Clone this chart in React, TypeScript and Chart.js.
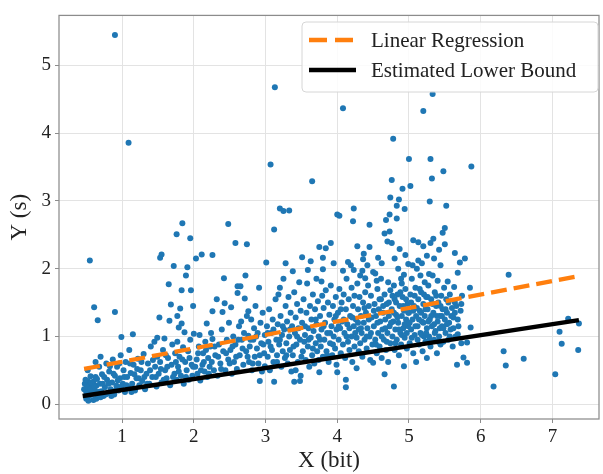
import React, { useEffect, useRef } from "react";
import { Chart, registerables } from "chart.js";

Chart.register(...registerables);

const X_TICKS = [1, 2, 3, 4, 5, 6, 7];
const Y_TICKS = [0, 1, 2, 3, 4, 5];
const X_RANGE = [0.12, 7.65];
const Y_RANGE = [-0.22, 5.74];

const REG_X = [0.47, 7.37];
const REG_Y = [0.52, 1.89];
const LB_X = [0.45, 7.37];
const LB_Y = [0.12, 1.24];

const LEGEND_LABELS = ["Linear Regression", "Estimated Lower Bound"];
const X_TITLE = "X (bit)";
const Y_TITLE = "Y (s)";

const POINTS: [number, number][] = [
  [0.47,0.22],[0.48,0.3],[0.5,0.18],[0.5,0.08],[0.52,0.34],[0.53,0.2],[0.54,0.12],[0.55,0.28],[0.56,0.41],[0.57,0.15],[0.58,0.24],[0.6,0.06],[0.6,0.33],[0.62,0.2],[0.64,0.27],[0.65,0.37],[0.66,0.1],[0.68,0.55],[0.69,0.3],[0.71,0.19],[0.72,0.44],[0.74,0.12],[0.55,2.12],[0.61,1.43],[0.66,1.24],[0.52,0.5],[0.63,0.62],[0.7,0.7],
  [0.76,0.25],[0.78,0.6],[0.79,0.36],[0.8,0.16],[0.82,0.48],[0.84,0.22],[0.86,0.32],[0.87,0.66],[0.89,0.14],[0.9,0.42],[0.9,5.45],[0.9,1.36],[0.92,0.27],[0.93,0.55],[0.95,0.2],[0.97,0.38],[0.98,0.72],[0.99,0.99],
  [1.01,0.3],[1.02,0.5],[1.04,0.18],[1.05,0.62],[1.07,0.4],[1.09,3.86],[1.09,0.25],[1.1,0.8],[1.12,0.46],[1.14,0.3],[1.15,1.03],[1.16,0.58],[1.18,0.2],[1.2,0.38],[1.22,0.67],[1.24,0.28],
  [1.26,0.5],[1.28,0.34],[1.3,0.74],[1.32,0.22],[1.34,0.45],[1.36,0.6],[1.38,0.3],[1.4,0.85],[1.42,0.4],[1.45,0.92],[1.46,0.55],[1.48,0.26],[1.49,0.98],[1.49,0.7],
  [1.52,1.28],[1.53,2.16],[1.55,2.21],[1.51,0.45],[1.53,0.62],[1.55,0.32],[1.57,0.8],[1.59,0.97],[1.6,0.5],[1.62,0.38],[1.64,0.68],[1.65,1.77],[1.66,1.23],[1.67,0.28],[1.68,1.47],[1.69,0.58],[1.7,0.88],[1.72,2.04],[1.73,0.45],[1.74,0.75],
  [1.76,2.51],[1.77,1.3],[1.77,0.92],[1.79,1.13],[1.81,1.41],[1.83,1.19],[1.83,1.68],[1.84,2.67],[1.87,1.06],[1.89,1.9],[1.91,2.02],[1.95,2.45],[1.96,1.68],[1.99,1.45],[1.76,0.36],[1.78,0.55],[1.8,0.7],[1.82,0.42],[1.85,0.84],[1.86,0.3],[1.88,0.62],[1.9,0.5],[1.92,0.78],[1.93,0.36],[1.95,0.95],[1.97,0.58],[1.98,0.42],
  [2.0,1.04],[2.03,2.15],[2.04,0.66],[2.05,0.45],[2.07,0.85],[2.08,1.02],[2.09,0.35],[2.11,2.21],[2.12,0.58],[2.13,0.75],[2.15,0.48],[2.16,0.92],[2.18,1.19],[2.19,0.4],[2.2,0.68],[2.22,0.55],[2.23,0.85],[2.24,1.05],
  [2.26,1.37],[2.26,0.96],[2.26,2.2],[2.28,0.5],[2.3,0.72],[2.32,1.55],[2.33,0.42],[2.35,0.88],[2.37,0.6],[2.39,1.1],[2.4,1.36],[2.41,0.78],[2.42,1.86],[2.43,1.49],[2.44,0.5],[2.46,0.95],[2.48,2.66],[2.48,0.66],[2.49,1.2],
  [2.51,0.8],[2.52,1.43],[2.53,0.45],[2.55,1.0],[2.56,0.62],[2.58,2.38],[2.58,0.88],[2.6,0.52],[2.61,1.64],[2.61,1.74],[2.63,1.15],[2.64,0.72],[2.65,1.74],[2.66,1.22],[2.67,0.95],[2.69,0.58],[2.7,1.05],[2.71,1.56],[2.72,1.9],[2.73,0.78],[2.74,2.36],[2.74,1.3],
  [2.76,1.37],[2.76,1.01],[2.77,0.62],[2.78,0.85],[2.8,1.25],[2.81,0.5],[2.83,0.95],[2.84,1.12],[2.85,0.7],[2.86,1.45],[2.88,0.82],[2.89,1.05],[2.9,0.6],[2.91,1.72],[2.92,0.34],[2.93,1.2],[2.94,0.9],[2.95,0.48],[2.96,1.35],[2.98,0.75],[2.99,1.02],[2.99,0.56],
  [3.01,2.09],[3.02,1.15],[3.03,0.7],[3.04,0.92],[3.05,1.4],[3.06,0.5],[3.07,3.54],[3.08,1.05],[3.09,0.8],[3.1,1.25],[3.11,0.62],[3.12,2.58],[3.12,0.33],[3.13,4.68],[3.14,1.55],[3.15,0.95],[3.16,0.72],[3.17,1.18],[3.18,1.62],[3.19,0.88],[3.2,2.89],[3.2,1.72],[3.21,1.3],[3.22,0.55],[3.23,1.02],[3.24,0.78],[3.25,1.85],[3.25,2.85],
  [3.26,1.1],[3.27,0.68],[3.28,2.08],[3.28,1.45],[3.29,0.9],[3.3,1.22],[3.31,0.6],[3.32,1.58],[3.33,2.86],[3.33,1.0],[3.34,0.8],[3.35,1.35],[3.36,0.48],[3.37,1.15],[3.38,1.96],[3.38,0.72],[3.4,1.65],[3.4,0.33],[3.41,1.05],[3.42,0.5],[3.42,1.28],[3.43,0.88],[3.44,1.48],[3.45,0.62],[3.46,1.12],[3.47,1.8],[3.48,0.34],[3.48,0.95],[3.49,0.42],[3.49,1.38],
  [3.51,2.17],[3.51,1.2],[3.52,0.78],[3.53,1.55],[3.54,0.92],[3.55,1.02],[3.56,0.65],[3.57,1.35],[3.58,1.78],[3.59,1.98],[3.59,0.85],[3.6,1.12],[3.61,0.55],[3.62,1.45],[3.63,2.11],[3.63,0.98],[3.64,1.25],[3.65,3.29],[3.65,0.72],[3.66,1.62],[3.67,1.08],[3.68,0.6],[3.69,1.4],[3.7,0.9],[3.71,1.85],[3.71,1.18],[3.72,0.78],[3.73,1.52],[3.74,1.0],[3.74,0.65],
  [3.75,2.32],[3.75,0.47],[3.76,1.3],[3.77,0.85],[3.78,1.81],[3.78,1.1],[3.79,1.6],[3.8,2.16],[3.8,1.99],[3.8,0.7],[3.81,1.42],[3.82,0.95],[3.83,1.2],[3.84,2.3],[3.84,1.68],[3.85,0.78],[3.86,1.05],[3.87,1.5],[3.88,0.62],[3.89,1.32],[3.9,0.9],[3.91,2.38],[3.91,1.75],[3.92,1.15],[3.93,0.72],[3.94,1.45],[3.95,2.08],[3.95,1.0],[3.96,1.25],[3.97,0.82],[3.98,1.58],[3.99,1.1],[3.99,0.58],
  [4.0,2.8],[4.0,0.47],[4.01,1.35],[4.02,0.95],[4.03,2.78],[4.03,1.7],[4.04,1.12],[4.05,0.75],[4.06,1.5],[4.07,1.22],[4.08,4.37],[4.08,1.97],[4.08,0.88],[4.09,1.62],[4.1,1.05],[4.11,0.68],[4.12,0.36],[4.12,0.25],[4.12,1.4],[4.13,1.85],[4.14,1.18],[4.15,0.92],[4.16,1.55],[4.17,0.8],[4.18,1.3],[4.19,2.05],[4.2,1.0],[4.2,1.72],[4.21,0.62],[4.22,2.7],[4.22,1.45],[4.23,2.89],[4.23,1.98],[4.23,1.15],[4.24,0.85],[4.24,1.6],
  [4.26,1.25],[4.27,0.53],[4.27,0.98],[4.28,2.33],[4.28,1.78],[4.29,1.4],[4.3,0.78],[4.3,1.1],[4.31,1.58],[4.32,1.9],[4.32,0.9],[4.33,1.3],[4.34,1.05],[4.35,1.97],[4.35,0.7],[4.36,2.14],[4.36,1.5],[4.37,2.22],[4.37,1.2],[4.38,0.95],[4.39,1.86],[4.39,1.65],[4.4,1.35],[4.41,0.82],[4.42,1.12],[4.43,1.75],[4.44,1.45],[4.45,2.65],[4.45,2.32],[4.45,1.0],[4.46,0.65],[4.47,1.6],[4.48,1.28],[4.49,0.88],[4.5,0.61],[4.5,1.95],
  [4.51,1.15],[4.52,1.48],[4.53,1.93],[4.53,0.95],[4.54,1.3],[4.55,0.75],[4.56,1.7],[4.57,2.16],[4.57,1.05],[4.58,1.4],[4.59,0.85],[4.6,1.22],[4.61,1.85],[4.61,1.55],[4.62,0.68],[4.63,1.1],[4.64,1.35],[4.65,0.95],[4.66,2.52],[4.66,0.44],[4.66,1.62],[4.67,1.25],[4.68,2.72],[4.68,0.8],[4.69,1.48],[4.7,2.4],[4.7,1.05],[4.71,1.8],[4.71,0.62],[4.72,1.3],[4.73,2.8],[4.73,2.55],[4.73,1.15],[4.74,3.05],[4.74,0.9],[4.74,1.68],
  [4.76,3.31],[4.76,2.38],[4.76,1.4],[4.77,1.0],[4.78,3.92],[4.78,1.22],[4.79,0.26],[4.79,1.75],[4.8,0.8],[4.8,1.55],[4.81,1.1],[4.82,1.32],[4.83,2.93],[4.83,2.74],[4.83,0.95],[4.84,1.62],[4.85,2.0],[4.85,1.2],[4.86,3.02],[4.86,0.72],[4.87,2.29],[4.87,1.45],[4.88,1.05],[4.89,1.85],[4.89,0.88],[4.9,1.3],[4.91,3.18],[4.91,1.58],[4.92,1.12],[4.93,1.91],[4.93,0.56],[4.93,1.38],[4.94,2.88],[4.94,0.98],[4.95,1.7],[4.96,1.25],[4.97,0.82],[4.98,1.48],[4.99,2.07],[4.99,1.15],
  [5.0,3.62],[5.0,1.35],[5.01,0.9],[5.02,3.22],[5.02,1.62],[5.03,1.1],[5.04,1.85],[5.05,1.25],[5.06,2.42],[5.06,0.75],[5.07,1.45],[5.08,1.02],[5.09,1.72],[5.1,1.3],[5.1,0.62],[5.11,2.0],[5.12,1.15],[5.13,2.39],[5.13,2.12],[5.13,1.55],[5.14,0.88],[5.15,1.38],[5.16,1.9],[5.16,1.05],[5.17,1.65],[5.18,1.22],[5.19,0.78],[5.2,4.33],[5.2,2.33],[5.2,1.48],[5.21,1.0],[5.22,1.8],[5.22,1.3],[5.23,0.92],[5.24,1.58],[5.25,2.19],[5.25,1.12],[5.25,0.68],
  [5.26,1.4],[5.27,1.75],[5.28,1.0],[5.29,2.99],[5.29,1.25],[5.3,3.62],[5.3,2.38],[5.3,0.85],[5.31,1.55],[5.32,3.33],[5.32,1.15],[5.33,4.58],[5.33,1.9],[5.34,2.44],[5.34,1.35],[5.35,0.95],[5.36,1.65],[5.37,1.08],[5.38,1.45],[5.39,0.75],[5.4,1.22],[5.4,1.82],[5.41,1.5],[5.42,1.0],[5.43,1.3],[5.44,2.05],[5.44,0.88],[5.45,1.6],[5.46,1.15],[5.47,2.53],[5.47,1.4],[5.48,3.44],[5.48,0.92],[5.49,1.72],[5.5,2.6],[5.5,1.25],[5.5,2.36],
  [5.51,1.05],[5.52,2.93],[5.52,1.55],[5.53,1.35],[5.54,1.81],[5.55,0.95],[5.56,1.2],[5.57,1.62],[5.58,1.1],[5.6,1.42],[5.61,0.85],[5.62,1.28],[5.63,1.73],[5.64,2.23],[5.64,1.5],[5.65,1.0],[5.67,0.58],[5.68,1.94],[5.68,1.03],[5.68,1.25],[5.71,2.09],[5.72,1.38],[5.73,0.9],[5.73,1.48],[5.74,1.6],[5.76,0.69],[5.78,2.15],[5.81,0.91],[5.81,0.61],[5.85,1.72],[5.86,1.13],[5.87,3.51],
  [6.18,0.26],[6.32,0.78],[6.35,0.57],[6.39,1.91],[6.6,0.67],[7.04,0.44],[7.1,1.07],[7.13,0.89],[7.22,1.26],[7.36,0.8],[7.37,1.19],
  // denser core of the cloud
  [0.49,0.36],[0.51,0.25],[0.53,0.05],[0.56,0.22],[0.57,0.32],[0.59,0.15],[0.61,0.26],[0.63,0.4],[0.64,0.08],[0.67,0.18],[0.7,0.1],[0.73,0.3],[0.75,0.4],[0.77,0.14],[0.81,0.3],[0.83,0.56],[0.85,0.12],[0.88,0.45],[0.91,0.2],[0.94,0.35],[0.96,0.6],[0.99,0.26],
  [1.03,0.4],[1.06,0.28],[1.11,0.6],[1.13,0.18],[1.17,0.44],[1.21,0.52],[1.23,0.38],[1.27,0.62],[1.31,0.4],[1.35,0.3],[1.39,0.5],[1.43,0.65],[1.47,0.4],[1.54,0.52],[1.58,0.36],[1.61,0.72],[1.63,0.55],[1.71,0.4],[1.75,0.62],[1.79,0.48],[1.84,0.66],[1.89,0.4],[1.94,0.68],[1.99,0.55],
  [2.02,0.55],[2.06,0.75],[2.1,0.5],[2.14,0.62],[2.17,0.8],[2.21,0.45],[2.25,0.62],[2.29,0.85],[2.34,0.7],[2.38,0.52],[2.45,0.75],[2.5,0.6],[2.54,0.85],[2.59,0.7],[2.62,0.95],[2.68,0.82],[2.75,0.7],[2.79,0.95],[2.82,0.6],[2.87,1.0],[2.92,0.72],[2.97,0.88],
  [3.03,1.05],[3.07,0.85],[3.11,1.1],[3.16,0.62],[3.2,0.95],[3.24,1.15],[3.29,0.72],[3.34,1.1],[3.39,0.85],[3.44,1.0],[3.5,0.7],[3.55,1.15],[3.6,0.95],[3.66,0.82],[3.7,1.25],[3.76,0.95],[3.81,1.15],[3.86,0.72],[3.9,1.05],[3.94,0.88],[3.98,1.3],
  [4.02,1.15],[4.05,1.4],[4.09,1.25],[4.13,1.0],[4.17,1.12],[4.21,1.28],[4.25,1.05],[4.29,1.2],[4.33,1.12],[4.38,1.42],[4.41,1.0],[4.44,1.25],[4.47,1.05],[4.51,1.38],[4.54,0.88],[4.56,1.2],[4.59,1.55],[4.62,1.0],[4.64,1.45],[4.67,1.12],[4.69,0.92],[4.72,1.5],[4.75,1.2],[4.77,1.6],[4.79,1.35],[4.81,0.9],[4.82,1.5],[4.84,1.28],[4.86,1.1],[4.88,1.65],[4.9,1.02],[4.92,1.45],[4.94,1.18],[4.96,1.55],[4.97,1.05],[4.99,1.35],
  [5.01,1.2],[5.03,1.5],[5.04,0.98],[5.06,1.38],[5.08,1.6],[5.09,1.15],[5.11,1.42],[5.12,0.95],[5.14,1.25],[5.15,1.7],[5.17,1.35],[5.18,1.02],[5.2,1.2],[5.21,1.62],[5.23,1.4],[5.24,1.05],[5.26,1.58],[5.27,1.22],[5.29,0.95],[5.31,1.3],[5.33,1.48],[5.35,1.18],[5.36,1.05],[5.38,1.6],[5.39,1.3],[5.41,0.92],[5.43,1.12],[5.44,1.45],[5.46,1.3],[5.48,1.12],
  [5.51,1.4],[5.53,1.18],[5.55,1.5],[5.57,1.0],[5.59,1.3],[5.62,1.12],[5.64,1.35],[5.66,1.45],[5.69,1.15],
  [4.15,2.1],[4.42,2.05],[4.62,2.08],[4.8,2.15],[4.95,2.2],[5.05,2.05],[5.18,2.08],[5.35,2.15],[5.42,2.28],[4.55,1.82],[4.9,1.78],[5.28,1.92],
];

const FONT = "'Liberation Serif', 'DejaVu Serif', serif";
const SPINE = "#8c8c8c";
const BLUE = "#1f77b4";
const ORANGE = "#ff7f0e";

const decorPlugin = {
  id: "decor",
  afterDraw(chart: any) {
    const { ctx, chartArea: a } = chart;
    ctx.save();
    ctx.strokeStyle = SPINE;
    ctx.lineWidth = 1.25;
    ctx.strokeRect(a.left, a.top, a.right - a.left, a.bottom - a.top);
    ctx.fillStyle = "#222";
    ctx.font = `23px ${FONT}`;
    ctx.textAlign = "center";
    ctx.textBaseline = "middle";
    ctx.fillText(X_TITLE, (a.left + a.right) / 2, 461);
    ctx.save();
    ctx.translate(20, (a.top + a.bottom) / 2);
    ctx.rotate(-Math.PI / 2);
    ctx.fillText(Y_TITLE, 0, 0);
    ctx.restore();
    const bx = 302, by = 22, bw = 296, bh = 70, r = 4;
    ctx.beginPath();
    ctx.moveTo(bx + r, by);
    ctx.arcTo(bx + bw, by, bx + bw, by + bh, r);
    ctx.arcTo(bx + bw, by + bh, bx, by + bh, r);
    ctx.arcTo(bx, by + bh, bx, by, r);
    ctx.arcTo(bx, by, bx + bw, by, r);
    ctx.closePath();
    ctx.fillStyle = "rgba(255,255,255,0.85)";
    ctx.fill();
    ctx.strokeStyle = "#d6d6d6";
    ctx.lineWidth = 1;
    ctx.stroke();
    const rows = [
      { y: 40, color: ORANGE, dash: [18, 8], w: 4.5 },
      { y: 70, color: "#000", dash: [], w: 4.5 },
    ];
    rows.forEach((row, i) => {
      ctx.beginPath();
      ctx.setLineDash(row.dash);
      ctx.strokeStyle = row.color;
      ctx.lineWidth = row.w;
      ctx.lineCap = "butt";
      ctx.moveTo(309, row.y);
      ctx.lineTo(356, row.y);
      ctx.stroke();
      ctx.setLineDash([]);
      ctx.fillStyle = "#222";
      ctx.font = `21px ${FONT}`;
      ctx.textAlign = "left";
      ctx.textBaseline = "middle";
      ctx.fillText(LEGEND_LABELS[i], 371, row.y + 1);
    });
    ctx.restore();
  },
};

export default function App() {
  const ref = useRef<HTMLCanvasElement>(null);
  useEffect(() => {
    if (!ref.current) return;
    const chart = new Chart(ref.current, {
      type: "scatter",
      data: {
        datasets: [
          {
            type: "line",
            label: LEGEND_LABELS[1],
            data: LB_X.map((x, i) => ({ x, y: LB_Y[i] })),
            borderColor: "#000",
            borderWidth: 4.5,
            pointRadius: 0,
            fill: false,
          } as any,
          {
            type: "line",
            label: LEGEND_LABELS[0],
            data: REG_X.map((x, i) => ({ x, y: REG_Y[i] })),
            borderColor: ORANGE,
            borderWidth: 4.2,
            borderDash: [16, 7],
            pointRadius: 0,
            fill: false,
          } as any,
          {
            label: "data",
            data: POINTS.map(([x, y]) => ({ x, y })),
            backgroundColor: BLUE,
            borderWidth: 0,
            pointRadius: 3,
          },
        ],
      },
      options: {
        animation: false,
        responsive: false,
        layout: { padding: { top: 10, right: 2, left: 0, bottom: 0 } },
        plugins: { legend: { display: false }, tooltip: { enabled: false } },
        scales: {
          x: {
            type: "linear",
            min: X_RANGE[0],
            max: X_RANGE[1],
            afterFit: (s: any) => { s.height = 55; },
            afterBuildTicks: (s: any) => { s.ticks = X_TICKS.map((v) => ({ value: v })); },
            grid: { color: "#e3e3e3", lineWidth: 1, tickColor: SPINE, tickLength: 4 },
            border: { display: false },
            ticks: { color: "#222", font: { family: FONT, size: 19 }, padding: 3 },
          },
          y: {
            type: "linear",
            min: Y_RANGE[0],
            max: Y_RANGE[1],
            afterFit: (s: any) => { s.width = 59; },
            afterBuildTicks: (s: any) => { s.ticks = Y_TICKS.map((v) => ({ value: v })); },
            grid: { color: "#e3e3e3", lineWidth: 1, tickColor: SPINE, tickLength: 4 },
            border: { display: false },
            ticks: { color: "#222", font: { family: FONT, size: 19 }, padding: 4 },
          },
        },
      },
      plugins: [decorPlugin],
    });
    return () => chart.destroy();
  }, []);
  return (
    <div style={{ position: "fixed", left: 0, top: 0, width: 603, height: 474, background: "#fff" }}>
      <canvas ref={ref} width={603} height={474} style={{ width: 603, height: 474, display: "block" }} />
    </div>
  );
}
